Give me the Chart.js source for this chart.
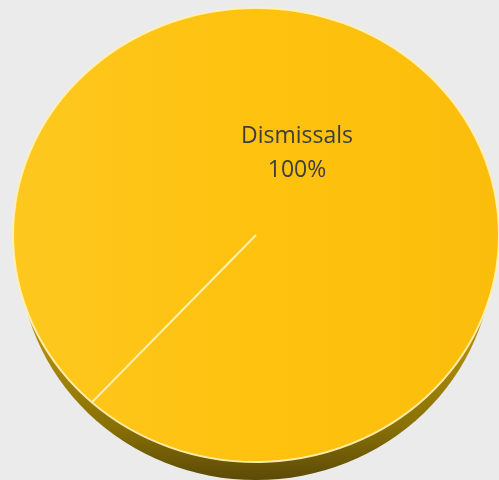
<!DOCTYPE html>
<html>
<head>
<meta charset="utf-8">
<script src="https://cdn.jsdelivr.net/npm/chart.js@4.4.1/dist/chart.umd.min.js"></script>
<style>
  html, body { margin: 0; padding: 0; background: #ebebeb; overflow: hidden; }
  canvas { display: block; }
</style>
</head>
<body>
<canvas id="myChart" width="499" height="480"></canvas>
<script>
// data
const categories = ['Dismissals'];
const counts = [100];

// tilted pie: top face ellipse and side depth
const face = { cx: 256, cy: 235, rx: 243, ry: 227 };
const depth = 18;

const ctx = document.getElementById('myChart');

function faceFill(c) {
  const area = c.chart.chartArea;
  if (!area) return '#fec20f';
  const g = c.chart.ctx.createLinearGradient(area.left, 0, area.right, 0);
  g.addColorStop(0, '#fec81f');
  g.addColorStop(0.5, '#fec20f');
  g.addColorStop(1, '#fbbd0b');
  return g;
}

const tiltPlugin = {
  id: 'tilt',
  beforeDatasetsDraw(chart) {
    const arc = chart.getDatasetMeta(0).data[0];
    if (!arc) return;
    const c = chart.ctx;
    const R = arc.outerRadius;
    const sx = face.rx / R;
    const sy = face.ry / R;
    c.save();
    c.translate(face.cx, face.cy);
    c.scale(sx, sy);
    c.translate(-arc.x, -arc.y);

    // side of the pie, shifted down under the top face
    const g = c.createLinearGradient(0, arc.y + R * 0.5, 0, arc.y + R + depth / sy);
    g.addColorStop(0, '#b08c0a');
    g.addColorStop(0.6, '#887005');
    g.addColorStop(1, '#5c4a08');
    c.beginPath();
    c.ellipse(arc.x, arc.y + depth / sy, R * 0.975, R, 0, 0, Math.PI * 2);
    c.fillStyle = g;
    c.fill();
  },
  afterDatasetsDraw(chart) {
    const arc = chart.getDatasetMeta(0).data[0];
    if (!arc) return;
    const c = chart.ctx;
    c.restore();

    // data label: category and share
    const total = counts.reduce((a, b) => a + b, 0);
    const pct = Math.round(counts[0] / total * 100) + '%';
    c.save();
    c.fillStyle = '#3d3d3d';
    c.font = '23px "Open Sans"';
    c.textAlign = 'center';
    c.textBaseline = 'alphabetic';
    c.fillText(categories[0], face.cx + 41, face.cy - 92);
    c.fillText(pct, face.cx + 41, face.cy - 58);
    c.restore();
  }
};

new Chart(ctx, {
  type: 'pie',
  data: {
    labels: categories,
    datasets: [
      {
        data: counts,
        backgroundColor: faceFill,
        borderColor: 'rgba(255, 240, 180, 0.95)',
        borderWidth: 2,
        clip: false,
      },
    ],
  },
  options: {
    responsive: false,
    animation: false,
    devicePixelRatio: 1,
    rotation: 222.5,
    layout: { padding: { left: 13, right: 0, top: 3, bottom: 13 } },
    plugins: {
      legend: { display: false },
      tooltip: { enabled: false },
    },
  },
  plugins: [tiltPlugin],
});
</script>
</body>
</html>
